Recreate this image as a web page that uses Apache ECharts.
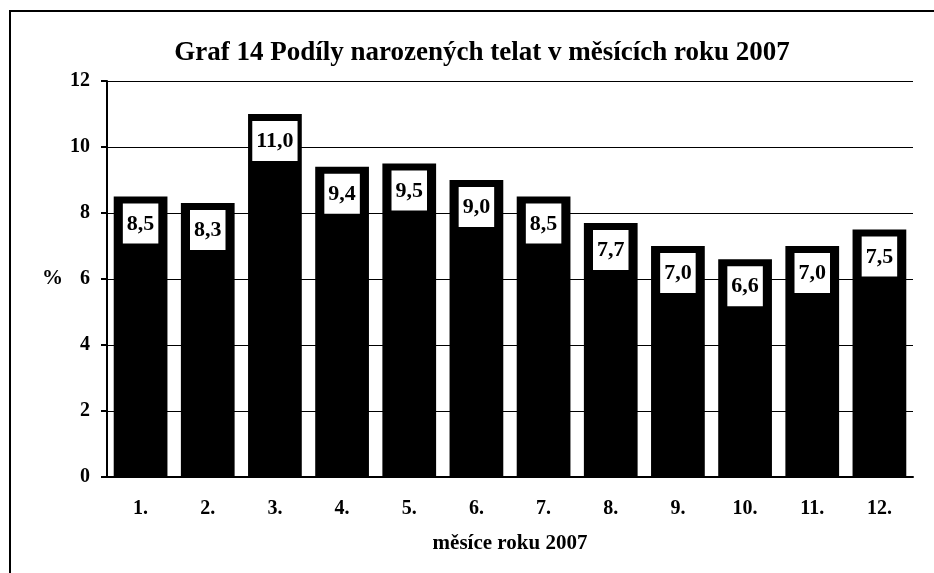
<!DOCTYPE html>
<html lang="cs">
<head>
<meta charset="UTF-8">
<title>Graf 14</title>
<script src="https://cdn.jsdelivr.net/npm/echarts@6/dist/echarts.min.js"></script>
<style>
  html, body { margin: 0; padding: 0; background: #fff; }
  #chart { width: 934px; height: 573px; }
</style>
</head>
<body>
<div id="chart"></div>
<script>
// měsíce a podíly narozených telat (%)
const months = ['1.', '2.', '3.', '4.', '5.', '6.', '7.', '8.', '9.', '10.', '11.', '12.'];
const shares = [8.5, 8.3, 11.0, 9.4, 9.5, 9.0, 8.5, 7.7, 7.0, 6.6, 7.0, 7.5];
const yTicks = [0, 2, 4, 6, 8, 10, 12];

const font = '"Liberation Serif", "Times New Roman", serif';
const chart = echarts.init(document.getElementById('chart'));

chart.setOption({
  animation: false,
  title: {
    text: 'Graf 14 Podíly narozených telat v měsících roku 2007',
    left: 477, top: 35, textAlign: 'center',
    textStyle: { fontFamily: font, fontSize: 27, fontWeight: 'bold', color: '#000' }
  },
  // rámeček kolem grafu
  graphic: [
    { type: 'polyline', shape: { points: [[10, 600], [10, 11], [940, 11]] },
      style: { stroke: '#000', lineWidth: 2, fill: null } }
  ],
  grid: { left: 107, right: 21, top: 81, bottom: 96 },
  xAxis: {
    type: 'category',
    data: months,
    name: 'měsíce roku 2007',
    nameLocation: 'middle',
    nameGap: 56,
    nameTextStyle: { fontFamily: font, fontSize: 21, fontWeight: 'bold', color: '#000' },
    axisLine: { lineStyle: { color: '#000', width: 2 } },
    axisTick: { alignWithLabel: false, length: 6, lineStyle: { color: '#000' } },
    axisLabel: { fontFamily: font, fontSize: 20, fontWeight: 'bold', color: '#000', margin: 22 }
  },
  yAxis: {
    type: 'value',
    min: yTicks[0], max: yTicks[yTicks.length - 1], interval: 2,
    name: '%',
    nameLocation: 'middle',
    nameRotate: 0,
    nameGap: 44,
    nameTextStyle: { fontFamily: font, fontSize: 21, fontWeight: 'bold', color: '#000' },
    axisLine: { show: true, lineStyle: { color: '#000', width: 2 } },
    axisTick: { show: true, length: 6, lineStyle: { color: '#000', width: 2 } },
    axisLabel: { fontFamily: font, fontSize: 20, fontWeight: 'bold', color: '#000', margin: 17 },
    splitLine: { lineStyle: { color: '#000', width: 1 } }
  },
  series: [{
    type: 'bar',
    data: shares,
    barCategoryGap: '20%',
    itemStyle: { color: '#000' },
    label: {
      show: true,
      position: 'insideTop',
      distance: 7,
      formatter: p => p.value.toFixed(1).replace('.', ','),
      fontFamily: font, fontSize: 22, fontWeight: 'bold', color: '#000',
      lineHeight: 23,
      backgroundColor: '#fff',
      padding: [9, 4, 8, 4]
    }
  }]
});
</script>
</body>
</html>
